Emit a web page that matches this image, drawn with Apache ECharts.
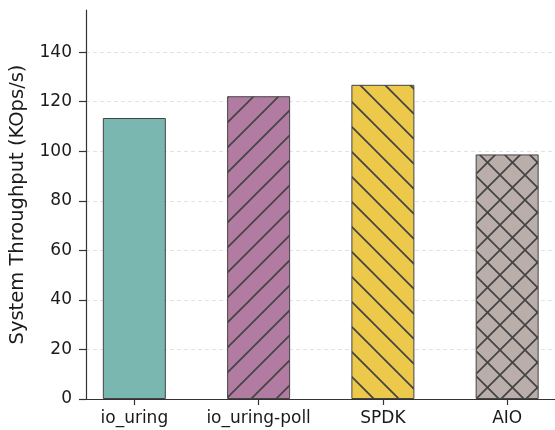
<!DOCTYPE html>
<html>
<head>
<meta charset="utf-8">
<script src="https://cdn.jsdelivr.net/npm/echarts@6/dist/echarts.min.js"></script>
<style>
  html, body { margin: 0; padding: 0; background: #fff; }
  #chart { width: 555px; height: 430px; }
</style>
</head>
<body>
<div id="chart"></div>
<script>
// Throughput per I/O engine
const categories = ['io_uring', 'io_uring-poll', 'SPDK', 'AIO'];
const throughput = [113.4, 122.2, 126.8, 98.7];
const yTicks = [0, 20, 40, 60, 80, 100, 120, 140];

const fills = ['#7bb7b1', '#b27ca2', '#ecc94b', '#b9aeaa'];
const hatches = ['', '/', '\\', 'x'];

// Builds a repeating tile: solid fill plus diagonal hatch strokes
function hatchTile(bg, kind) {
  const s = 25;
  const c = document.createElement('canvas');
  c.width = s; c.height = s;
  const g = c.getContext('2d');
  g.fillStyle = bg;
  g.fillRect(0, 0, s, s);
  g.strokeStyle = '#444444';
  g.lineWidth = 1.7;
  const fwd = () => {
    g.beginPath();
    for (const o of [-s, 0, s]) { g.moveTo(o - 2, s + 2); g.lineTo(o + s + 2, -2); }
    g.stroke();
  };
  const back = () => {
    g.beginPath();
    for (const o of [-s, 0, s]) { g.moveTo(o - 2, -2); g.lineTo(o + s + 2, s + 2); }
    g.stroke();
  };
  if (kind === '/') fwd();
  if (kind === '\\') back();
  if (kind === 'x') { fwd(); back(); }
  return c;
}

const barData = throughput.map((v, i) => ({
  value: [i, v],
  itemStyle: {
    color: hatches[i] ? { image: hatchTile(fills[i], hatches[i]), repeat: 'repeat' } : fills[i],
    borderColor: '#444444',
    borderWidth: 1
  }
}));

const chart = echarts.init(document.getElementById('chart'), null, { renderer: 'canvas' });
chart.setOption({
  animation: false,
  backgroundColor: '#ffffff',
  grid: { left: 86, right: 0, top: 10, bottom: 31, containLabel: false },
  xAxis: {
    type: 'value',
    min: -0.389,
    max: 3.385,
    splitLine: { show: false },
    axisLine: { show: true, onZero: false, lineStyle: { color: '#333333', width: 1.2 } },
    axisTick: { show: true, customValues: [0, 1, 2, 3], length: 6, lineStyle: { color: '#333333', width: 1.2 } },
    axisLabel: {
      customValues: [0, 1, 2, 3],
      formatter: v => categories[Math.round(v)],
      margin: 11,
      fontFamily: 'DejaVu Sans',
      fontSize: 17,
      color: '#1a1a1a'
    }
  },
  yAxis: {
    type: 'value',
    min: 0,
    max: 157,
    interval: 20,
    name: 'System Throughput (KOps/s)',
    nameLocation: 'middle',
    nameGap: 58,
    nameTextStyle: { fontFamily: 'DejaVu Sans', fontSize: 19.5, color: '#1a1a1a' },
    splitLine: { show: false },
    axisLine: { show: true, onZero: false, lineStyle: { color: '#333333', width: 1.2 } },
    axisTick: { show: true, customValues: yTicks, length: 7, lineStyle: { color: '#333333', width: 1.2 } },
    axisLabel: {
      customValues: yTicks,
      margin: 14,
      fontFamily: 'DejaVu Sans',
      fontSize: 17,
      color: '#1a1a1a'
    }
  },
  series: [
    {
      // horizontal dashed guide lines behind the bars
      type: 'line',
      data: [],
      z: 0,
      silent: true,
      markLine: {
        silent: true,
        z: 0,
        symbol: ['none', 'none'],
        label: { show: false },
        lineStyle: { type: [4, 3], color: '#e2e2e2', width: 1 },
        data: yTicks.slice(1).map(v => ({ yAxis: v }))
      }
    },
    {
      type: 'bar',
      barWidth: 63,
      z: 2,
      data: barData
    }
  ]
});
</script>
</body>
</html>
